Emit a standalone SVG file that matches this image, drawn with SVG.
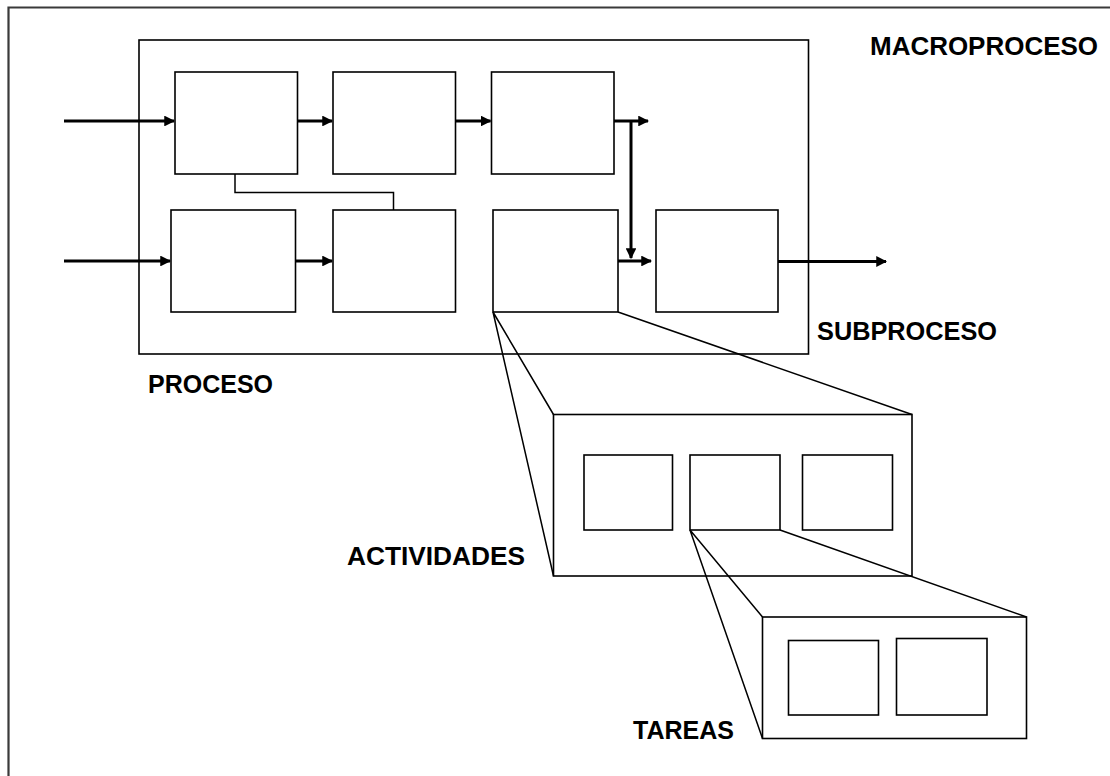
<svg xmlns="http://www.w3.org/2000/svg" width="1110" height="776" viewBox="0 0 1110 776">
<style>
.b{fill:#fff;stroke:#000;stroke-width:1.6}
.l{fill:none;stroke:#000;stroke-width:1.5}
.a{fill:none;stroke:#000;stroke-width:3;marker-end:url(#ah)}
.t{font-family:"Liberation Sans",Arial,sans-serif;font-weight:bold;font-size:25px;fill:#000}
</style>
<defs>
<marker id="ah" viewBox="0 0 10 10" refX="9" refY="5" markerWidth="3.6" markerHeight="3.6" orient="auto" markerUnits="strokeWidth">
<path d="M0,0 L10,5 L0,10 z" fill="#000"/>
</marker>
</defs>
<rect width="1110" height="776" fill="#fff"/>
<path d="M8.5,776 V7.5 H1110" fill="none" stroke="#3a3a3a" stroke-width="2.2"/>
<g id="proceso"><rect class="b" x="139" y="40" width="669.5" height="314"/></g>
<g id="p1"><rect class="b" x="175" y="72" width="122.5" height="102"/></g>
<g id="p2"><rect class="b" x="333" y="72" width="122.5" height="102"/></g>
<g id="p3"><rect class="b" x="491.5" y="72" width="122.5" height="102"/></g>
<g id="p4"><rect class="b" x="171" y="210" width="124.5" height="102"/></g>
<g id="p5"><rect class="b" x="333" y="210" width="122.5" height="102"/></g>
<g id="p6"><rect class="b" x="493" y="210" width="125" height="102"/></g>
<g id="p7"><rect class="b" x="656" y="210" width="122" height="102"/></g>
<g id="actividades">
<rect class="b" x="553.5" y="414.5" width="358.5" height="161.5"/>
<rect class="b" x="584" y="455" width="88.5" height="75"/>
<rect class="b" x="690" y="455" width="90" height="75"/>
<rect class="b" x="802.5" y="455" width="90" height="75"/>
</g>
<g id="tareas">
<rect class="b" x="762.5" y="617" width="264" height="121.5"/>
<rect class="b" x="788.5" y="640.5" width="90" height="74.5"/>
<rect class="b" x="896.5" y="638.5" width="90.5" height="76.5"/>
</g>
<g id="connectors">
<path class="l" d="M235,174 V192.5 H393.5 V210"/>
<path class="l" d="M493,312 L553.5,414.5 M493,312 L553.5,576 M618,312 L912,414.5"/>
<path class="l" d="M690,530 L762.5,617 M690,530 L762.5,738.5 M780,530 L1026.5,617"/>
<path class="a" d="M64,121 H174"/>
<path class="a" d="M297.5,121 H332"/>
<path class="a" d="M455.5,121 H490.5"/>
<path class="a" d="M614,121 H648"/>
<path class="a" d="M631,121 V258"/>
<path class="a" d="M64,261 H170"/>
<path class="a" d="M295.5,261 H332"/>
<path class="a" d="M618,261 H651"/>
<path class="a" d="M778,261.5 H886"/>
</g>
<g id="labels">
<text class="t" x="870" y="55" textLength="228" lengthAdjust="spacingAndGlyphs">MACROPROCESO</text>
<text class="t" x="817" y="340" textLength="180" lengthAdjust="spacingAndGlyphs">SUBPROCESO</text>
<text class="t" x="148" y="393" textLength="125" lengthAdjust="spacingAndGlyphs">PROCESO</text>
<text class="t" x="347" y="565" textLength="178" lengthAdjust="spacingAndGlyphs">ACTIVIDADES</text>
<text class="t" x="633" y="739" textLength="101" lengthAdjust="spacingAndGlyphs">TAREAS</text>
</g>
</svg>
